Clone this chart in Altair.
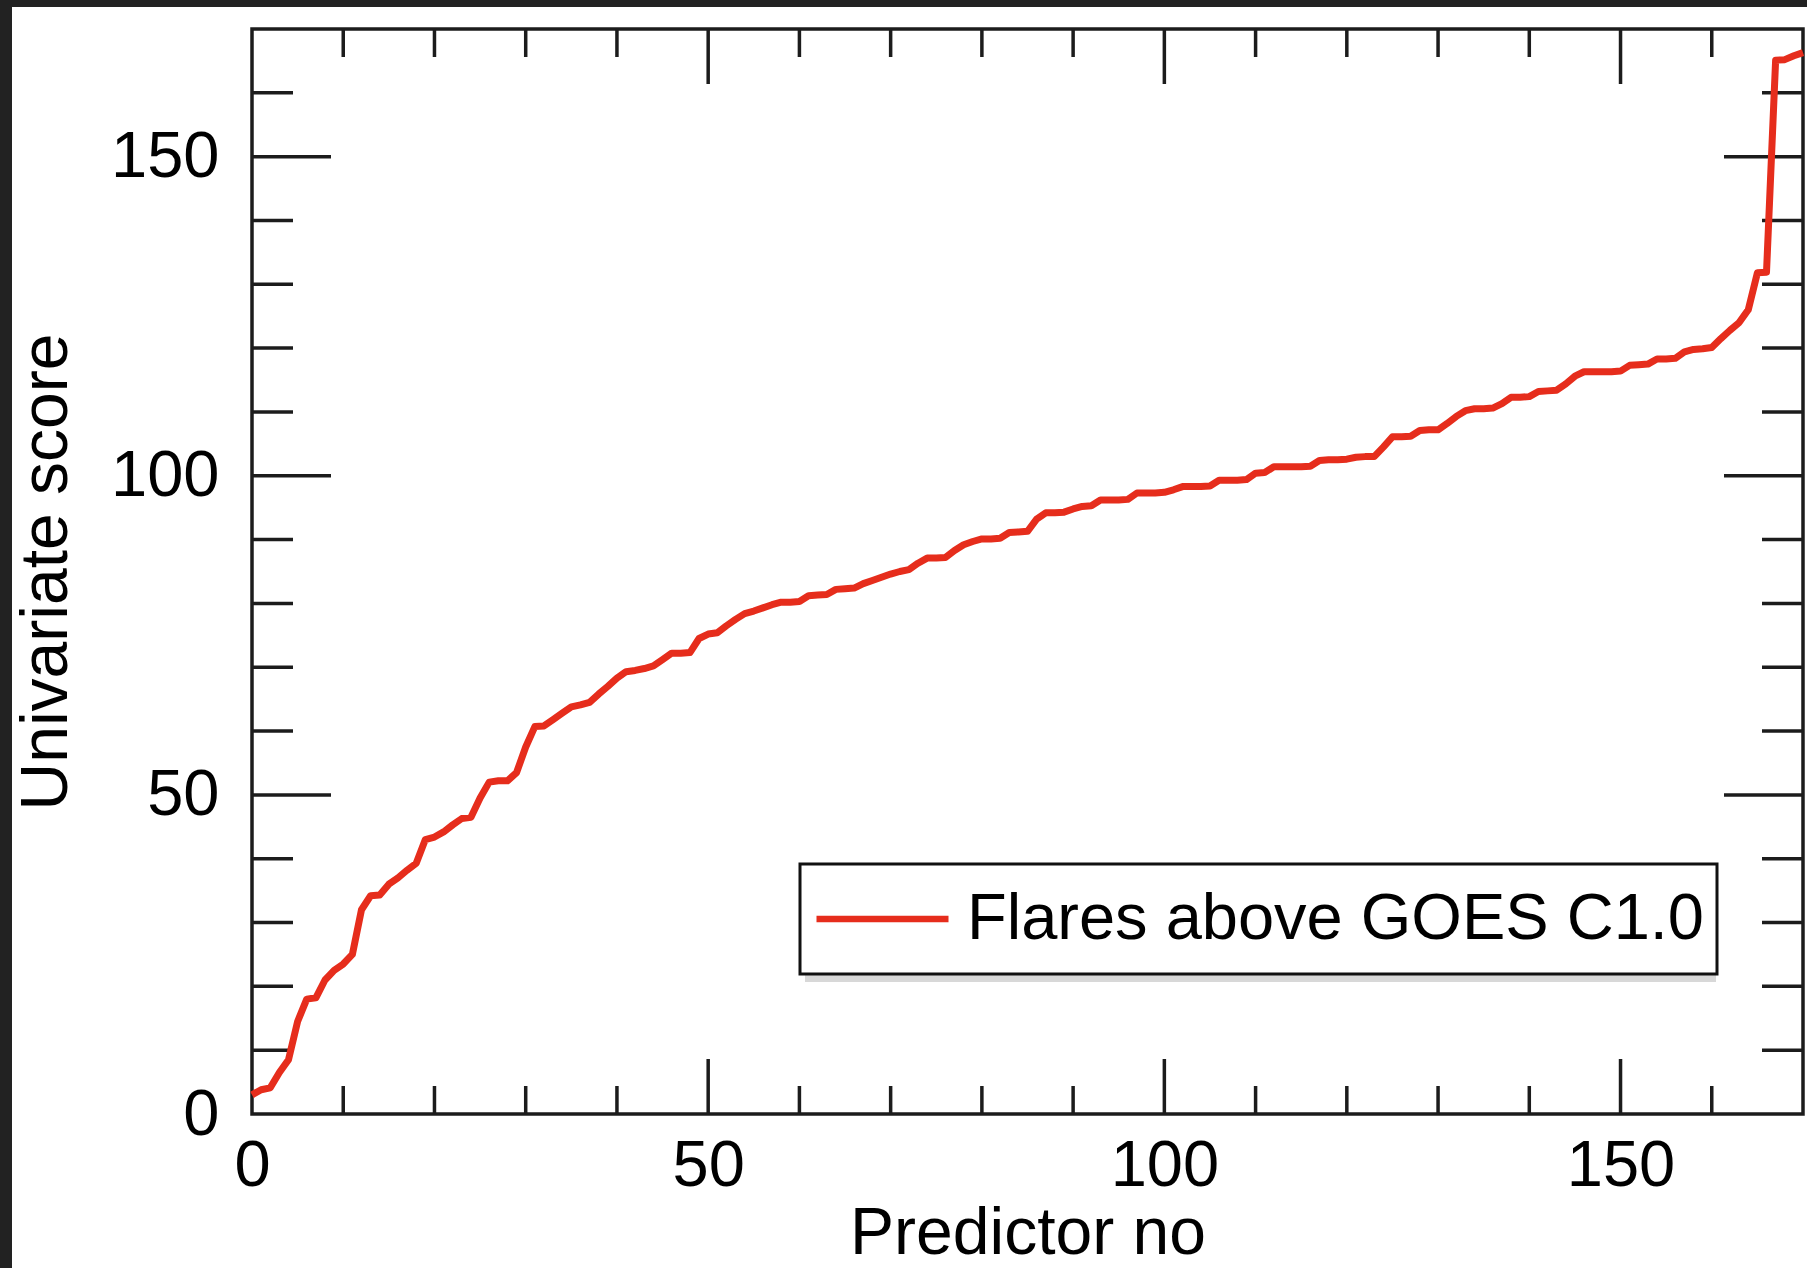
import altair as alt
import pandas as pd

# ---------------- data ----------------
predictor = list(range(171))
score = [
    3.0, 3.8, 4.1, 6.5, 8.5, 14.5, 18.0, 18.2, 21.0, 22.5,
    23.5, 25.0, 32.0, 34.2, 34.3, 36.0, 37.0, 38.2, 39.3, 43.0,
    43.4, 44.2, 45.3, 46.3, 46.5, 49.5, 52.0, 52.2, 52.2, 53.5,
    57.5, 60.7, 60.8, 61.8, 62.8, 63.8, 64.1, 64.5, 65.8, 67.0,
    68.3, 69.3, 69.5, 69.8, 70.2, 71.2, 72.2, 72.2, 72.3, 74.5,
    75.2, 75.4, 76.5, 77.5, 78.4, 78.8, 79.3, 79.8, 80.2, 80.2,
    80.3, 81.2, 81.3, 81.4, 82.2, 82.3, 82.4, 83.1, 83.6, 84.1,
    84.6, 85.0, 85.3, 86.3, 87.1, 87.1, 87.2, 88.3, 89.2, 89.7,
    90.1, 90.1, 90.2, 91.1, 91.2, 91.3, 93.2, 94.2, 94.2, 94.3,
    94.8, 95.2, 95.3, 96.2, 96.2, 96.2, 96.3, 97.3, 97.3, 97.3,
    97.4, 97.8, 98.3, 98.3, 98.3, 98.4, 99.3, 99.3, 99.3, 99.4,
    100.4, 100.5, 101.4, 101.4, 101.4, 101.4, 101.5, 102.4, 102.5, 102.5,
    102.6, 102.9, 103.0, 103.0, 104.5, 106.1, 106.1, 106.2, 107.1, 107.2,
    107.2, 108.2, 109.3, 110.2, 110.5, 110.5, 110.6, 111.3, 112.3, 112.3,
    112.4, 113.2, 113.3, 113.4, 114.4, 115.6, 116.3, 116.3, 116.3, 116.3,
    116.4, 117.3, 117.4, 117.5, 118.3, 118.3, 118.4, 119.4, 119.8, 119.9,
    120.1, 121.5, 122.8, 124.0, 126.0, 131.8, 131.9, 165.1, 165.2, 165.8,
    166.3,
]
series_name = "Flares above GOES C1.0"

x_label_values = [0, 50, 100, 150]
y_label_values = [0, 50, 100, 150]
x_minor_ticks = [10, 20, 30, 40, 60, 70, 80, 90, 110, 120, 130, 140, 160]
x_major_ticks = [50, 100, 150]
y_minor_ticks = [10, 20, 30, 40, 60, 70, 80, 90, 110, 120, 130, 140, 160]
y_major_ticks = [50, 100, 150]

# ---------------- layout / style ----------------
W, H = 1551, 1085
PAD_L, PAD_T, PAD_R, PAD_B = 252, 29, 4, 154
FONT = "Liberation Sans"
INK = "#1c1c1c"
RED = "#e62d1c"
FS_LABEL = 65
FS_TITLE = 66
TW = 3.5

df = pd.DataFrame({"x": predictor, "y": score, "series": series_name})

xs = alt.Scale(domain=[0, 170], nice=False, zero=False)
ys = alt.Scale(domain=[0, 170], nice=False, zero=False)

x_axis = alt.Axis(
    values=x_label_values, ticks=False, tickSize=0, domain=False, grid=False,
    labelFont=FONT, labelFontSize=FS_LABEL, labelColor="black", labelPadding=20,
    labelFlush=False, labelOverlap=False,
    title="Predictor no", titleFont=FONT, titleFontSize=FS_TITLE, titleFontWeight="normal",
    titleColor="black", titleBaseline="alphabetic", titleY=139,
)
y_axis = alt.Axis(
    values=y_label_values, ticks=False, tickSize=0, domain=False, grid=False,
    labelFont=FONT, labelFontSize=FS_LABEL, labelColor="black", labelPadding=33,
    labelFlush=False, labelOverlap=False,
    title="Univariate score", titleFont=FONT, titleFontSize=FS_TITLE, titleFontWeight="normal",
    titleColor="black", titleBaseline="alphabetic", titleAngle=270,
    titleX=-186, titleY=H / 2, titleAlign="center",
)

line = alt.Chart(df).mark_line(strokeWidth=7, strokeJoin="round", clip=False).encode(
    x=alt.X("x:Q", scale=xs, axis=x_axis),
    y=alt.Y("y:Q", scale=ys, axis=y_axis),
    color=alt.Color(
        "series:N",
        scale=alt.Scale(domain=[series_name], range=[RED]),
        legend=alt.Legend(
            title=None, orient="none", legendX=548, legendY=835,
            symbolType="stroke", symbolSize=17424, symbolStrokeWidth=6.5,
            clipHeight=84, labelOffset=15, padding=13,
            labelFont=FONT, labelFontSize=65, labelColor="black", labelLimit=1500,
            strokeColor="#111111", fillColor="white",
        ),
    ),
)


def ticks_x(vals, length, at_bottom):
    d = pd.DataFrame({"x": vals})
    if at_bottom:
        y0, y1 = H, H - length
    else:
        y0, y1 = 0, length
    return alt.Chart(d).mark_rule(color=INK, strokeWidth=TW).encode(
        x=alt.X("x:Q", scale=xs, axis=x_axis),
        y=alt.value(y0), y2=alt.value(y1),
    )


def ticks_y(vals, length, at_left):
    d = pd.DataFrame({"y": vals})
    if at_left:
        x0, x1 = 0, length
    else:
        x0, x1 = W, W - length
    return alt.Chart(d).mark_rule(color=INK, strokeWidth=TW).encode(
        y=alt.Y("y:Q", scale=ys, axis=y_axis),
        x=alt.value(x0), x2=alt.value(x1),
    )


tick_layers = [
    ticks_x(x_minor_ticks, 28, True), ticks_x(x_major_ticks, 55, True),
    ticks_x(x_minor_ticks, 28, False), ticks_x(x_major_ticks, 55, False),
    ticks_y(y_minor_ticks, 41, True), ticks_y(y_major_ticks, 79, True),
    ticks_y(y_minor_ticks, 41, False), ticks_y(y_major_ticks, 79, False),
]

# dark page edge (top and left strips of the screenshot) and legend shadow
one = pd.DataFrame({"k": [0]})
edge_left = alt.Chart(one).mark_rect(color="#222222").encode(
    x=alt.value(-PAD_L), x2=alt.value(-PAD_L + 12),
    y=alt.value(-PAD_T), y2=alt.value(H + PAD_B),
)
edge_top = alt.Chart(one).mark_rect(color="#222222").encode(
    x=alt.value(-PAD_L), x2=alt.value(W + PAD_R),
    y=alt.value(-PAD_T), y2=alt.value(-PAD_T + 7),
)
legend_shadow = alt.Chart(one).mark_rect(color="#c8c8c8", opacity=0.7).encode(
    x=alt.value(553), x2=alt.value(1464),
    y=alt.value(946), y2=alt.value(953),
)

chart = alt.layer(edge_left, edge_top, legend_shadow, *tick_layers, line).properties(
    width=W, height=H,
    autosize=alt.AutoSizeParams(type="none"),
    padding={"left": PAD_L, "top": PAD_T, "right": PAD_R, "bottom": PAD_B},
    background="white",
).configure_view(
    stroke=INK, strokeWidth=TW
).configure_legend(
    strokeWidth=3
)

chart.save("out.html", embed_options={"renderer": "svg", "actions": False})
